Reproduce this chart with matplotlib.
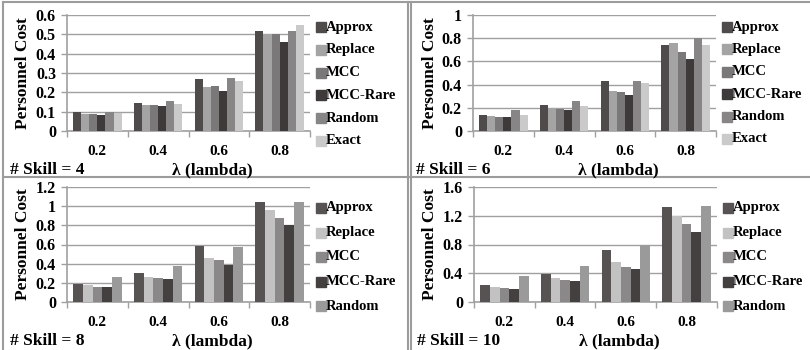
import matplotlib
matplotlib.use('Agg')
import matplotlib.pyplot as plt
from matplotlib.lines import Line2D
import numpy as np

plt.rcParams['font.family'] = ['Liberation Serif', 'DejaVu Serif']
plt.rcParams['font.weight'] = 'bold'

lambdas = ['0.2', '0.4', '0.6', '0.8']

# skill = 4
s4_approx = [0.100, 0.147, 0.270, 0.515]
s4_replace = [0.088, 0.135, 0.230, 0.500]
s4_mcc = [0.088, 0.135, 0.232, 0.500]
s4_mcc_rare = [0.083, 0.127, 0.205, 0.462]
s4_random = [0.100, 0.157, 0.273, 0.515]
s4_exact = [0.093, 0.142, 0.260, 0.550]

# skill = 6
s6_approx = [0.140, 0.228, 0.435, 0.745]
s6_replace = [0.130, 0.200, 0.345, 0.755]
s6_mcc = [0.125, 0.190, 0.335, 0.685]
s6_mcc_rare = [0.118, 0.180, 0.310, 0.625]
s6_random = [0.178, 0.260, 0.430, 0.800]
s6_exact = [0.137, 0.218, 0.410, 0.745]

# skill = 8
s8_approx = [0.190, 0.305, 0.580, 1.045]
s8_replace = [0.175, 0.265, 0.460, 0.960]
s8_mcc = [0.160, 0.250, 0.435, 0.875]
s8_mcc_rare = [0.155, 0.240, 0.385, 0.800]
s8_random = [0.265, 0.380, 0.575, 1.045]

# skill = 10
s10_approx = [0.235, 0.390, 0.720, 1.315]
s10_replace = [0.210, 0.335, 0.555, 1.190]
s10_mcc = [0.190, 0.305, 0.490, 1.090]
s10_mcc_rare = [0.185, 0.295, 0.465, 0.970]
s10_random = [0.365, 0.500, 0.790, 1.335]

names6 = ['Approx', 'Replace', 'MCC', 'MCC-Rare', 'Random', 'Exact']
names5 = ['Approx', 'Replace', 'MCC', 'MCC-Rare', 'Random']

colors_top = ['#4f4b4b', '#a4a4a4', '#7a7878', '#3e3a3a', '#878585', '#cacaca']
colors_bot = ['#575353', '#c2c2c2', '#8a8888', '#444040', '#9a9a9a']

panels = [
    dict(pos=(67, 15, 310, 131), skill=4, names=names6, colors=colors_top,
         data=[s4_approx, s4_replace, s4_mcc, s4_mcc_rare, s4_random, s4_exact],
         ymax=0.6, yticks=[0, 0.1, 0.2, 0.3, 0.4, 0.5, 0.6], lab_y=(27, 141)),
    dict(pos=(473, 15, 716, 131), skill=6, names=names6, colors=colors_top,
         data=[s6_approx, s6_replace, s6_mcc, s6_mcc_rare, s6_random, s6_exact],
         ymax=1.0, yticks=[0, 0.2, 0.4, 0.6, 0.8, 1], lab_y=(27, 139)),
    dict(pos=(67, 187, 310, 302), skill=8, names=names5, colors=colors_bot,
         data=[s8_approx, s8_replace, s8_mcc, s8_mcc_rare, s8_random],
         ymax=1.2, yticks=[0, 0.2, 0.4, 0.6, 0.8, 1, 1.2], lab_y=(208, 306)),
    dict(pos=(474, 187, 717, 302), skill=10, names=names5, colors=colors_bot,
         data=[s10_approx, s10_replace, s10_mcc, s10_mcc_rare, s10_random],
         ymax=1.6, yticks=[0, 0.4, 0.8, 1.2, 1.6], lab_y=(208, 306)),
]

W, H = 810, 350
fig = plt.figure(figsize=(8.1, 3.5), dpi=100)


def fx(px):
    return px / W


def fy(py):
    return 1 - py / H


def fmt(v):
    return ('%g' % v)


grid_c = '#a0a0a0'
x = np.arange(len(lambdas))

for p in panels:
    l, t, r, b = p['pos']
    ax = fig.add_axes([fx(l), fy(b), fx(r - l), (b - t) / H])
    n = len(p['data'])
    w = 0.8 / n
    for i, (vals, c) in enumerate(zip(p['data'], p['colors'])):
        ax.bar(x - 0.4 + w * (i + 0.5), vals, w, color=c, zorder=3)
    ax.set_xlim(-0.5, 3.5)
    ax.set_ylim(0, p['ymax'])
    ax.set_yticks(p['yticks'])
    ax.set_yticklabels([fmt(v) for v in p['yticks']], fontsize=11.5, fontweight='bold')
    ax.set_xticks(x)
    ax.set_xticklabels(lambdas, fontsize=11, fontweight='bold')
    ax.set_xticks(np.arange(-0.5, 4.0, 1.0), minor=True)
    ax.tick_params(axis='x', which='major', length=0, pad=10)
    ax.tick_params(axis='x', which='minor', length=4, color=grid_c, width=1)
    ax.tick_params(axis='y', length=4, color=grid_c, width=1, pad=4)
    ax.yaxis.grid(True, color=grid_c, lw=1, zorder=0)
    for s in ['top', 'right']:
        ax.spines[s].set_visible(False)
    for s in ['left', 'bottom']:
        ax.spines[s].set_color(grid_c)
        ax.spines[s].set_linewidth(1.2)
    ax.set_ylabel('Personnel Cost', fontsize=12.5, fontweight='bold', labelpad=3)

    # legend entries stacked to the right of the plot
    y0, y1 = p['lab_y']
    ys = np.linspace(y0, y1, n)
    for yy, name, c in zip(ys, p['names'], p['colors']):
        fig.add_artist(Line2D([fx(r + 11)], [fy(yy)], marker='s', markersize=6.5,
                              color=c, linestyle='none'))
        fig.text(fx(r + 16), fy(yy), name, fontsize=10.5, fontweight='bold',
                 va='center', ha='left')

    fig.text(fx(l - 57), fy(b + 39), '# Skill = %d' % p['skill'], fontsize=12.5,
             fontweight='bold', va='center', ha='left')
    fig.text(fx((l + r) / 2 + 24), fy(b + 39), 'λ (lambda)', fontsize=12.5,
             fontweight='bold', va='center', ha='center')

# panel frames
frame_c = '#9c9c9c'
for xs, ys in [([3, 3], [2, 350]), ([3, 810], [2, 2]), ([408, 408], [2, 350]),
               ([411, 411], [2, 350]), ([3, 810], [177, 177])]:
    fig.add_artist(Line2D([fx(v) for v in xs], [fy(v) for v in ys],
                          color=frame_c, lw=1.5))

fig.savefig('out.png', dpi=100)
